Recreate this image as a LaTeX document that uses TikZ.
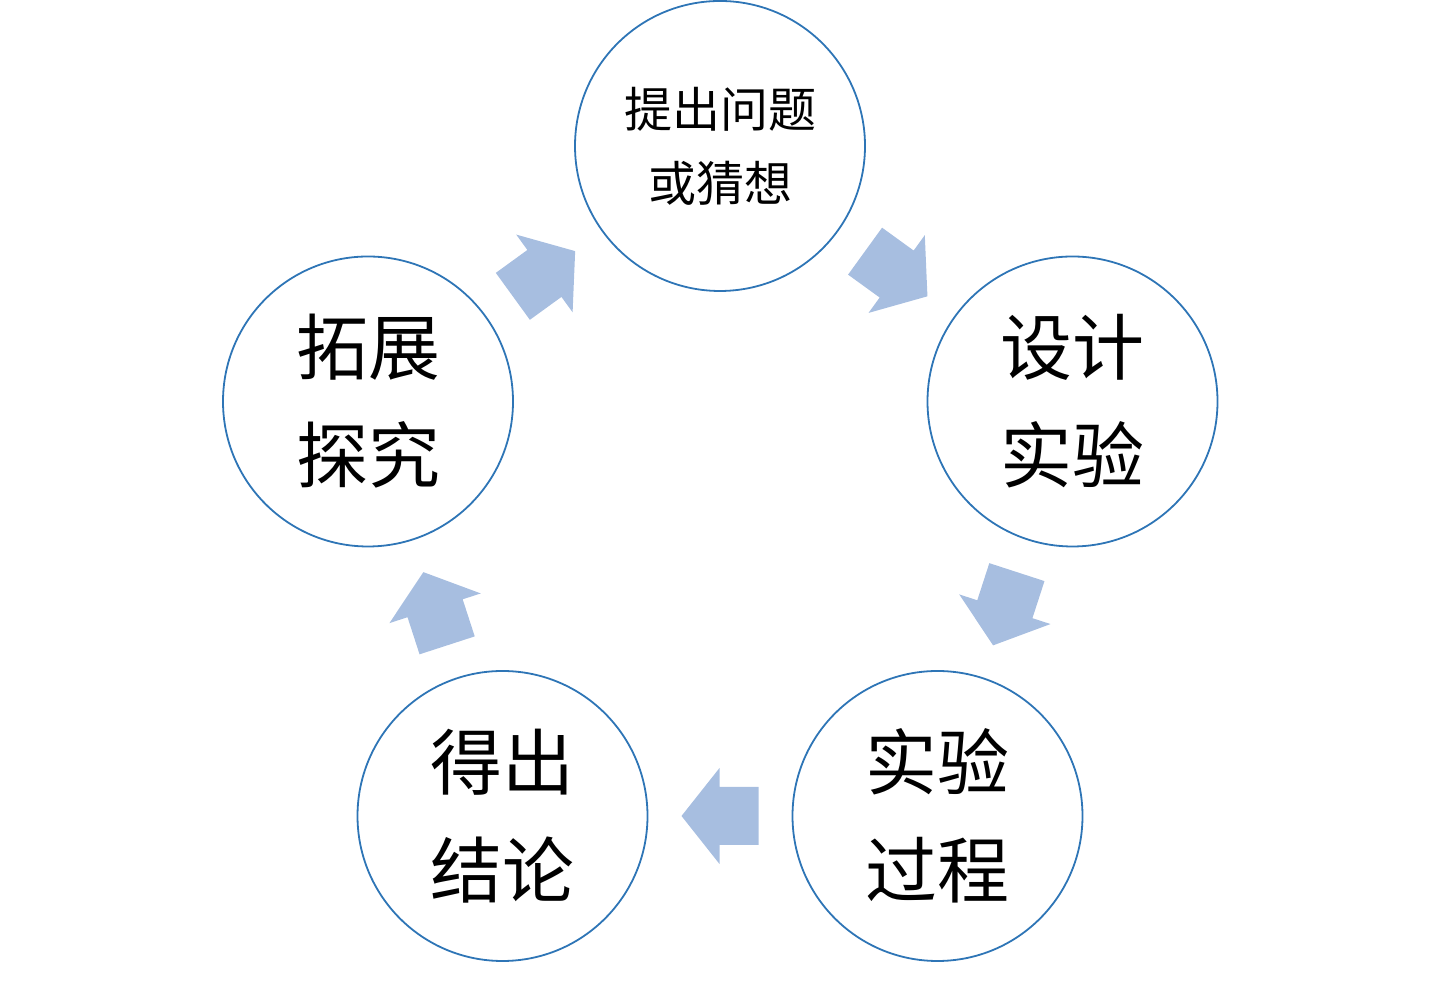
\documentclass[tikz,border=0pt]{standalone}
\usepackage{fontspec}
\newfontfamily\cjk{Noto Sans CJK SC}
\usetikzlibrary{calc}
\definecolor{ringblue}{RGB}{46,117,182}
\definecolor{arrowblue}{RGB}{167,190,224}
\begin{document}
\begin{tikzpicture}[x=1pt,y=1pt,
  stage/.style={circle,draw=ringblue,line width=1.8pt,minimum size=290pt,inner sep=0pt,
    align=center,font=\cjk\fontsize{72}{108}\selectfont},
  smallstage/.style={stage,font=\cjk\fontsize{48}{74}\selectfont},
  blockarrow/.style={fill=arrowblue,draw=none}]
\useasboundingbox (0,0) rectangle (1440,992);
\node[smallstage] (T)  at (720,846)   {提出问题\\或猜想};
\node[stage]      (R)  at (1072.5,590.5) {设计\\实验};
\node[stage]      (BR) at (937.5,176) {实验\\过程};
\node[stage]      (BL) at (502.5,176) {得出\\结论};
\node[stage]      (L)  at (368,590.5) {拓展\\探究};
\coordinate (m1) at ($(T.center)!0.5!(R.center)$);
\coordinate (m2) at ($(R.center)!0.5!(BR.center)$);
\coordinate (m3) at ($(BR.center)!0.5!(BL.center)$);
\coordinate (m4) at ($(BL.center)!0.5!(L.center)$);
\coordinate (m5) at ($(L.center)!0.5!(T.center)$);
\foreach \m/\a in {m1/-35.9, m2/-108.0, m3/180, m4/108.0, m5/35.97}{
  \fill[blockarrow,shift={(\m)},rotate=\a]
    (38.5,0) -- (0.5,48) -- (0.5,29) -- (-38.5,29) -- (-38.5,-29) -- (0.5,-29) -- (0.5,-48) -- cycle;
}
\end{tikzpicture}
\end{document}
